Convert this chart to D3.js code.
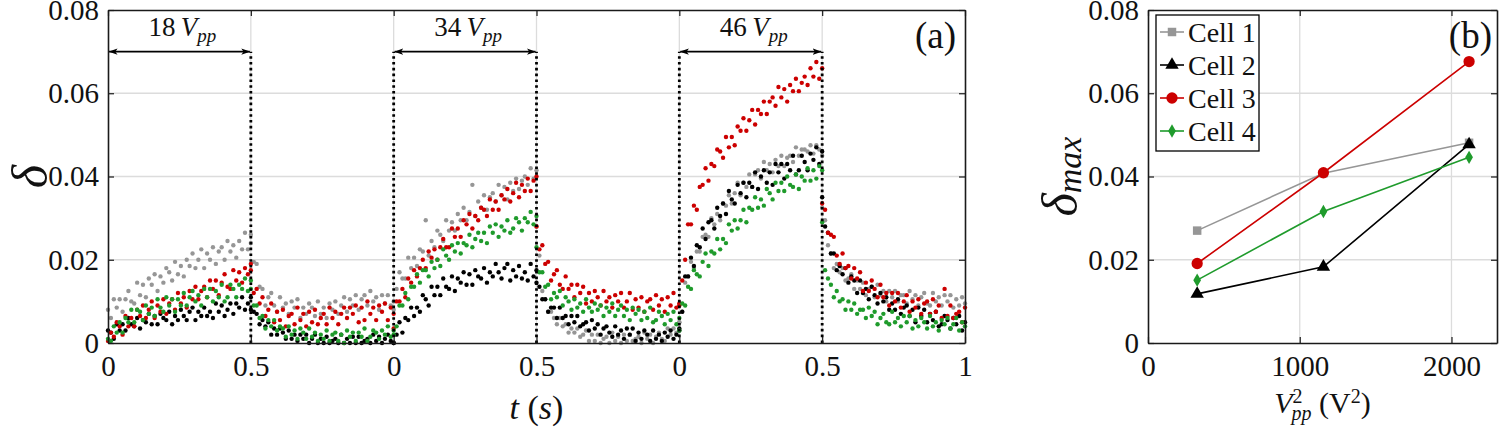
<!DOCTYPE html>
<html><head><meta charset="utf-8">
<script src="https://cdn.jsdelivr.net/npm/d3@7"></script>
<style>
body{margin:0;background:#fff}
svg{display:block}
text{font-family:"Liberation Serif","Times New Roman",serif;fill:#111}
</style>
</head><body>
<svg id="chart" width="1500" height="428"></svg>
<script>
// ---------------- DATA ----------------
// Panel (a): time axis made of six 0.5 s segments (on/off for 18, 34, 46 Vpp)
const segmentStarts = [0, 0.5, 1, 1.5, 2, 2.5];
const segmentLength = 0.5;
const deltaUnit = 0.001; // values below are in thousandths of delta

// Cell 1 (gray), one array per segment
const cell1Series = [
  [8,6,10.5,8.5,10.5,7.5,10.5,12.5,10,9.5,14.5,11.5,14,11,15.5,14,16.5,12.5,16,14.5,18,17,15,19.5,16.5,18.5,16,20,18.5,21.5,18,20,22.5,18,21.5,20,23,19,22,23,20,24.5,22,23.5,20.5,24.5,22.5,26.5,22.5,24],
  [26,19.5,19,13.5,13,9,11,12,9,7.5,11,8.5,9.5,7,10,8.5,10.5,6,8.5,7,9.5,8.5,6.5,10,7,8.5,6,9.5,8,10,7,9,11,7.5,10.5,9,11.5,8,10.5,11.5,9,12.5,10,11,8,11.5,9.5,11.5,9,10],
  [8,13,17,15.5,15.5,20.5,18,20.5,18.5,22.5,22,29.5,21,24.5,23,27,26,24.5,29.5,27,29,27,31,29.5,32.5,29.5,31.5,38,30.5,34,32.5,35.5,32,35,36,34,38,35.5,37.5,34.5,38.5,36.5,39.5,37,39,40,38,42,39.5,41.5],
  [28,21,12.5,10.5,7.5,7.5,6,4.5,6,4,4.5,2.5,3.5,2.5,3.5,1.5,2,3,0.5,2,0.5,2,0,1,1.5,0,2.5,0.5,1.5,0,2,0.5,2,0.5,1,1.5,0,2.5,1,2,0,1.5,2.5,1,0.5,3.5,2,3.5,2.5,5],
  [5,7.5,14.5,16,19.5,18,22,22,25.5,26,25.5,30,28.5,31,29.5,33.5,33,35.5,33.5,36,38.5,35.5,38.5,37.5,40.5,37.5,40.5,41.5,39.5,43.5,41.5,43,41,44,42.5,45,42.5,44.5,45,43.5,47,45,46.5,46.5,46,47.5,45.5,47.5,46.5,45],
  [32.5,29.5,23.5,21.5,18,19,17,18,15,15.5,16.5,13,15,13,14.5,11.5,13,13.5,11,14,11.5,12.5,10,12.5,11,12.5,10,11.5,11.5,9.5,12.5,10.5,11.5,9,11,12,9.5,9,12,10,11,9,11.5,10,11.5,8.5,10.5,9,11,9.5]
];
// Cell 2 (black)
const cell2Series = [
  [3,2.5,1,4.5,3,4.5,3,6,4.5,4,6,3.5,5.5,5,7,4.5,6.5,4.5,7,6,5.5,7.5,4.5,6.5,5.5,8,6.5,5.5,7.5,8.5,5.5,7.5,6.5,8.5,6.5,7.5,6,9.5,7.5,9,6.5,8,9.5,7,9.5,8.5,11,8,9.5,8],
  [11,7.5,7,4.5,5.5,4,5,2,3.5,2,3.5,2.5,1,3,1,2,0.5,2,1,2,0,1,2,0,1,0,1.5,0,0.5,1,0,2,0,1,0,1.5,0,1.5,0,0.5,1,0,2,0.5,1.5,0,1,2,0.5,0],
  [0,2,5,2.5,6,5.5,8.5,6.5,8.5,7.5,11.5,10.5,9,13.5,11.5,13.5,11.5,15.5,13.5,13,16,12.5,15.5,14.5,17,14,16.5,14,17.5,16,15.5,18,14.5,17,16,19,17,15.5,18,19,15,17.5,16,18.5,15.5,17,15,19,16,17.5],
  [14.5,13.5,10.5,10.5,7.5,8.5,8.5,6,8.5,6,6.5,4.5,6.5,5,6.5,4,4.5,5,3,5.5,3.5,4.5,2,3.5,4,2.5,1.5,4,2,3,1,3.5,2,3.5,0.5,2.5,1,3,2,0.5,3,1,2,0.5,2.5,1.5,3,1,2,3.5],
  [3,7.5,16,16,20.5,18.5,23.5,23,27.5,25,29,29.5,27.5,32.5,30.5,33.5,31,36.5,34.5,33.5,38,36,38.5,35,38.5,37.5,41,37,40,41.5,38.5,41,38,43,41,43,39.5,43,41.5,45,40.5,41.5,45,43.5,41.5,45.5,44,47,43,46],
  [35,28,26.5,21.5,21.5,17.5,18.5,16.5,18,14.5,16,15,12,15,12,13,10.5,13.5,11.5,9.5,12,10,11,8,9.5,8,10.5,7,8.5,9,6.5,8,5,8.5,6.5,8,5,7,5.5,7.5,4,4.5,6.5,5.5,3.5,6,4.5,6.5,3,5]
];
// Cell 3 (red)
const cell3Series = [
  [0.5,2.5,1.5,5,4,2,6.5,4,6,4,8,6.5,9,6,8,10,6,9,7.5,10.5,7,9.5,10.5,8,12,9.5,11,8.5,12.5,10.5,13.5,10.5,12.5,13.5,11,15,13,15,11.5,14.5,16.5,13.5,13,17.5,15,17,14.5,18,16.5,19],
  [17.5,12,13,9.5,11,6.5,8,9.5,5,7.5,5.5,8,4,6.5,7,4.5,8.5,5.5,7,4,7.5,5,8,4.5,6,7,4.5,8.5,6,7.5,4.5,7,8.5,6,8.5,7,9,5,8.5,5.5,10,7,8.5,5.5,9,7.5,9.5,5.5,8.5,7],
  [3.5,10,10,13,11,15.5,14.5,17.5,16,18,20,18,22,20.5,22.5,20,23,25,23,23,27.5,25.5,27.5,25.5,29.5,28.5,31,27.5,30.5,29.5,32.5,32,30.5,34.5,32,34,32,35.5,34.5,37,34,36,38.5,35,38,36.5,39.5,36.5,39,40],
  [28,22.5,23.5,19,19.5,15,16.5,17.5,14,13,16,13,14,11,14,12,13.5,9.5,12,10,12.5,11,9,12.5,10,11,8.5,11.5,10,12,8.5,10,12,8,10.5,8.5,11,7.5,10,10.5,8,11.5,9,10.5,7.5,11,9,12,8.5,9.5],
  [9,15,20,28.5,28.5,33,32,37.5,38,42,39,43,42.5,46.5,46,44.5,49.5,47,49.5,47.5,52,51,54,51,53.5,56,52.5,56,55,58,55,58,59,57,61.5,59,61,58,62,60.5,63.5,60.5,62.5,64,62,66,64,67.5,63.5,66],
  [33.5,32,26.5,26,25.5,21,19,21.5,18,18.5,15.5,18,15.5,17,12.5,14.5,12.5,15,13,11,14,11,12,9,12,10,12,8.5,10,11.5,7.5,10,8.5,10.5,7,9.5,10,7,10.5,7.5,9,6,13,6.5,9,6,7,7.5,5,8.5]
];
// Cell 4 (green)
const cell4Series = [
  [1,0.5,4,2.5,5,2.5,6,5,8,5,8,7.5,5.5,9,7,8.5,6.5,10.5,8.5,7.5,11,9,10.5,7.5,10.5,9,12,9,11,12.5,10,11.5,9,13,11,13,10,12.5,11,14,10,11,14,13,11,14,13,15.5,12.5,15],
  [13,9,9,6,6.5,3.5,5.5,4,5.5,3,4,3.5,1.5,4,2,3,1,3.5,2.5,1,3.5,1.5,2.5,0.5,2,1,3,0.5,2,2.5,0.5,2,0,3,1.5,2.5,0.5,2.5,1.5,3.5,0.5,1.5,3,2.5,1,3,2,4,1.5,3],
  [2,4,9,9,12,10.5,13.5,13.5,16.5,14.5,17.5,17.5,16,19.5,18,20,18.5,22.5,21,20,23.5,22,24,21.5,24,23.5,26,23,25,26.5,24.5,26.5,24,28,26.5,28.5,25.5,28,27,29.5,26.5,27.5,30,29,27,30,29,31.5,28.5,30.5],
  [23,17,17,13.5,14,10.5,12,11,12.5,9,11,10,8,10.5,8.5,9.5,7.5,10.5,8.5,7.5,9.5,8,9,6.5,8.5,7.5,9.5,6.5,8,9,6.5,8,5.5,8.5,7,8,5.5,7.5,6,8.5,5,5.5,7.5,6.5,4.5,7,5.5,7.5,4.5,6],
  [3,9.5,9,13.5,13,17.5,16.5,16,19.5,21.5,18.5,22,21.5,25,22.5,25,24,28.5,27,29.5,27.5,29.5,32,29,32.5,32,35,32.5,34.5,33,37,36,34.5,38.5,36.5,38.5,36.5,40,38,37.5,40.5,37,40,39,42,39,41.5,39.5,42.5,41.5],
  [29,17.5,15.5,14,11,12.5,10,10.5,8,10,8,9.5,7,8,8,6,8.5,6.5,7.5,4.5,6,7,5,4.5,7.5,5,6,4,6.5,5,6.5,3.5,5.5,4,6,5,3.5,6.5,4,5,3,5.5,4.5,6,3.5,4.5,6,3,5,4]
];

const cellNames = ["Cell 1", "Cell 2", "Cell 3", "Cell 4"];
const cellColors = ["#969696", "#000000", "#cc0000", "#1f9b2c"];

const aXTicks = [0, 0.5, 1, 1.5, 2, 2.5, 3];
const aXTickLabels = ["0", "0.5", "0", "0.5", "0", "0.5", "1"];
const yTicks = [0, 0.02, 0.04, 0.06, 0.08];
const yTickLabels = ["0", "0.02", "0.04", "0.06", "0.08"];
const voltageLabels = ["18", "34", "46"];
const pulseStarts = [0, 1, 2];
const dividerTimes = [0.5, 1, 1.5, 2, 2.5];
const arrowLevel = 0.07;

// Panel (b)
const vppSquared = [324, 1156, 2116];
const cell1Max = [0.0270, 0.0408, 0.0481];
const cell2Max = [0.0118, 0.0183, 0.0477];
const cell3Max = [0.0191, 0.0409, 0.0676];
const cell4Max = [0.0151, 0.0316, 0.0446];
const bXTicks = [0, 1000, 2000];
const bXTickLabels = ["0", "1000", "2000"];

// ---------------- DRAW ----------------
const svg = d3.select("#chart");
const FS = 29;
const axisColor = "#1a1a1a";
const gridColor = "#dcdcdc";

const xA = d3.scaleLinear().domain([0, 3]).range([108, 965]);
const yA = d3.scaleLinear().domain([0, 0.08]).range([343, 10]);
const xB = d3.scaleLinear().domain([0, 2300]).range([1148, 1497]);
const yB = d3.scaleLinear().domain([0, 0.08]).range([343, 10]);

function grid(x, y, xTicks) {
  const g = svg.append("g");
  const [x0, x1] = x.range(), [y0, y1] = y.range();
  g.selectAll(".hg").data(yTicks.slice(1, -1)).join("line")
    .attr("x1", x0).attr("x2", x1).attr("y1", d => y(d)).attr("y2", d => y(d))
    .attr("stroke", gridColor).attr("stroke-width", 1.3);
  g.selectAll(".vg").data(xTicks.filter(d => d > x.domain()[0] && d < x.domain()[1])).join("line")
    .attr("x1", d => x(d)).attr("x2", d => x(d)).attr("y1", y0).attr("y2", y1)
    .attr("stroke", gridColor).attr("stroke-width", 1.3);
}

function axes(x, y, xTicks, xLabels) {
  const [x0, x1] = x.range(), [y0, y1] = y.range();
  const fmtY = (d, i) => yTickLabels[i];
  const fmtX = (d, i) => xLabels[i];
  const left = svg.append("g").attr("transform", `translate(${x0},0)`)
    .call(d3.axisLeft(y).tickValues(yTicks).tickFormat(fmtY).tickSizeInner(-6).tickSizeOuter(0).tickPadding(9));
  const bottom = svg.append("g").attr("transform", `translate(0,${y0})`)
    .call(d3.axisBottom(x).tickValues(xTicks).tickFormat(fmtX).tickSizeInner(-6).tickSizeOuter(0).tickPadding(12));
  const right = svg.append("g").attr("transform", `translate(${x1},0)`)
    .call(d3.axisRight(y).tickValues(yTicks).tickFormat("").tickSizeInner(-6).tickSizeOuter(0));
  const top = svg.append("g").attr("transform", `translate(0,${y1})`)
    .call(d3.axisTop(x).tickValues(xTicks).tickFormat("").tickSizeInner(-6).tickSizeOuter(0));
  [left, bottom, right, top].forEach(a => {
    a.select(".domain").attr("stroke", axisColor).attr("stroke-width", 1.6);
    a.selectAll(".tick line").attr("stroke", axisColor).attr("stroke-width", 1.2);
    a.selectAll("text").attr("font-size", FS).attr("fill", "#111");
  });
  bottom.selectAll("text").attr("dy", "0.71em");
}

// ---- Panel (a)
grid(xA, yA, aXTicks);

const allSeries = [cell1Series, cell2Series, cell3Series, cell4Series];
allSeries.forEach((series, ci) => {
  const pts = [];
  series.forEach((seg, si) => {
    seg.forEach((v, i) => {
      pts.push({t: segmentStarts[si] + segmentLength * i / (seg.length - 1), v: v * deltaUnit});
    });
  });
  svg.append("g").selectAll("circle").data(pts).join("circle")
    .attr("cx", d => xA(d.t)).attr("cy", d => yA(d.v)).attr("r", 2.2)
    .attr("fill", cellColors[ci]);
});

// dotted dividers
svg.append("g").selectAll("line").data(dividerTimes).join("line")
  .attr("x1", d => xA(d)).attr("x2", d => xA(d))
  .attr("y1", yA(0)).attr("y2", yA(arrowLevel))
  .attr("stroke", "#000").attr("stroke-width", 2.8).attr("stroke-dasharray", "2.6,3.2");

// arrows
const defs = svg.append("defs");
defs.append("marker").attr("id", "ah").attr("viewBox", "0 0 10 10").attr("refX", 9.5).attr("refY", 5)
  .attr("markerWidth", 9).attr("markerHeight", 9).attr("markerUnits", "userSpaceOnUse").attr("orient", "auto-start-reverse")
  .append("path").attr("d", "M0,1.5 L10,5 L0,8.5 L2.5,5 Z").attr("fill", "#000");
svg.append("g").selectAll("line").data(pulseStarts).join("line")
  .attr("x1", d => xA(d) + 1).attr("x2", d => xA(d + segmentLength) - 1)
  .attr("y1", yA(arrowLevel)).attr("y2", yA(arrowLevel))
  .attr("stroke", "#000").attr("stroke-width", 1.6)
  .attr("marker-start", "url(#ah)").attr("marker-end", "url(#ah)");

const vl = svg.append("g").selectAll("text").data(pulseStarts).join("text")
  .attr("x", d => xA(d + segmentLength / 2) + 3).attr("y", yA(arrowLevel) - 16)
  .attr("text-anchor", "middle").attr("font-size", 27);
vl.append("tspan").text((d, i) => voltageLabels[i] + "\u2009");
vl.append("tspan").attr("font-style", "italic").text("V");
vl.append("tspan").attr("font-style", "italic").attr("font-size", 19).attr("dy", 6).text("pp");

axes(xA, yA, aXTicks, aXTickLabels);

svg.append("text").attr("x", xA(3) - 9).attr("y", 48).attr("text-anchor", "end")
  .attr("font-size", 37).text("(a)");

// axis labels (a)
svg.append("text").attr("transform", `translate(47,${yA(0.04)}) rotate(-90)`)
  .attr("text-anchor", "middle").attr("font-size", 50).attr("font-style", "italic").text("δ");
const tl = svg.append("text").attr("x", xA(1.5)).attr("y", 419).attr("text-anchor", "middle").attr("font-size", 34);
tl.append("tspan").attr("font-style", "italic").text("t");
tl.append("tspan").text(" (");
tl.append("tspan").attr("font-style", "italic").text("s");
tl.append("tspan").text(")");

// ---- Panel (b)
grid(xB, yB, bXTicks);

const maxSeries = [cell1Max, cell2Max, cell3Max, cell4Max];
const symbols = [
  {type: d3.symbolSquare, size: 72},
  {type: d3.symbolTriangle, size: 78},
  {type: d3.symbolCircle, size: 100},
  {type: d3.symbolDiamond, size: 52}
];
const lineGen = d3.line().x(d => xB(d[0])).y(d => yB(d[1]));
maxSeries.forEach((vals, ci) => {
  const pts = vppSquared.map((x, i) => [x, vals[i]]);
  svg.append("path").attr("d", lineGen(pts)).attr("fill", "none")
    .attr("stroke", cellColors[ci]).attr("stroke-width", 1.6);
});
maxSeries.forEach((vals, ci) => {
  const pts = vppSquared.map((x, i) => [x, vals[i]]);
  svg.append("g").selectAll("path").data(pts).join("path")
    .attr("d", d3.symbol().type(symbols[ci].type).size(symbols[ci].size))
    .attr("transform", d => `translate(${xB(d[0])},${yB(d[1])})`)
    .attr("fill", cellColors[ci]);
});

axes(xB, yB, bXTicks, bXTickLabels);

svg.append("text").attr("x", xB(2300) - 5).attr("y", 48).attr("text-anchor", "end")
  .attr("font-size", 37).text("(b)");

// legend
const lg = svg.append("g").attr("transform", "translate(1156,15)");
lg.append("rect").attr("width", 103).attr("height", 136).attr("fill", "#fff")
  .attr("stroke", "#000").attr("stroke-width", 1.3);
cellNames.forEach((name, i) => {
  const yy = 17 + i * 33;
  lg.append("line").attr("x1", 4).attr("x2", 28).attr("y1", yy).attr("y2", yy)
    .attr("stroke", cellColors[i]).attr("stroke-width", 1.6);
  lg.append("path").attr("d", d3.symbol().type(symbols[i].type).size(symbols[i].size))
    .attr("transform", `translate(16,${yy})`).attr("fill", cellColors[i]);
  lg.append("text").attr("x", 32).attr("y", yy + 10).attr("font-size", 28).text(name);
});

// axis labels (b)
const dl = svg.append("text").attr("transform", `translate(1077,${yB(0.04)}) rotate(-90)`)
  .attr("text-anchor", "middle").attr("font-size", 50).attr("font-style", "italic");
dl.append("tspan").text("δ");
dl.append("tspan").attr("font-size", 34).attr("dy", 4).text("max");

const xl = svg.append("text").attr("x", xB(1150)).attr("y", 413).attr("text-anchor", "middle").attr("font-size", 30);
xl.append("tspan").attr("font-style", "italic").text("V");
xl.append("tspan").attr("font-size", 20).attr("dy", -10).text("2");
xl.append("tspan").attr("font-size", 20).attr("font-style", "italic").attr("dx", -11).attr("dy", 17).text("pp");
xl.append("tspan").attr("dy", -7).text(" (V");
xl.append("tspan").attr("font-size", 20).attr("dy", -10).text("2");
xl.append("tspan").attr("dy", 10).text(")");
</script>
</body></html>
